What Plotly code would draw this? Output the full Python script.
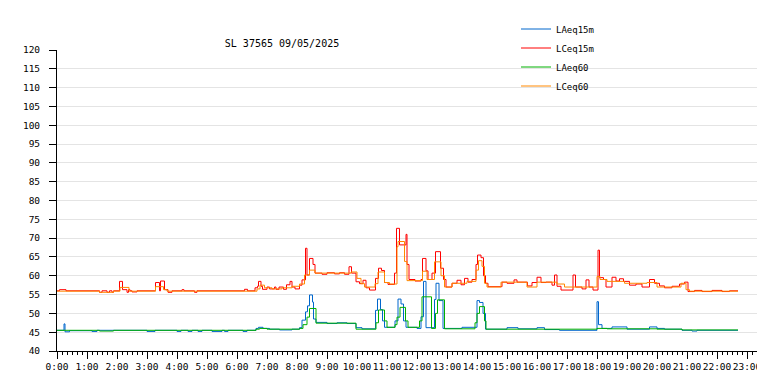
import plotly.graph_objects as go

# ---- data (minutes after midnight, dB) ----
laeq15m_t = [0, 14, 16, 25, 70, 80, 180, 196, 240, 248, 262, 270, 282, 290, 310, 330, 335, 342,
             372, 380, 398, 403, 412, 425, 445, 470, 485, 490, 497, 501, 505, 511, 513, 518, 540,
             560, 580, 598, 610, 637, 641, 647, 651, 655, 676, 682, 688, 693, 698, 720, 728, 733,
             738, 755, 758, 764, 772, 810, 840, 845, 852, 857, 900, 922, 960, 975, 1005, 1080,
             1083, 1090, 1110, 1140, 1185, 1200, 1215, 1250, 1270, 1280, 1362]
laeq15m_v = [45.5, 47.2, 45.1, 45.4, 45.2, 45.5, 45.2, 45.5, 45.2, 45.5, 45.2, 45.5, 45.2, 45.5,
             45.2, 45.5, 45.2, 45.5, 45.2, 45.5, 46.0, 46.3, 46.0, 45.8, 45.6, 45.8, 46.2, 48.2,
             50.4, 52.0, 54.9, 53.0, 48.5, 47.6, 47.3, 47.5, 47.3, 46.2, 45.9, 50.8, 53.8, 51.0,
             48.0, 46.3, 48.0, 53.8, 52.5, 48.0, 46.3, 46.0, 49.1, 58.5, 46.2, 53.7, 58.0, 53.4,
             46.0, 46.3, 53.4, 52.9, 50.0, 45.8, 46.2, 45.9, 46.2, 45.7, 45.5, 53.1, 47.0, 46.0,
             46.4, 45.8, 46.4, 46.0, 45.8, 45.5, 45.3, 45.5, 45.5]

lceq15m_t = [0, 5, 18, 85, 90, 100, 105, 110, 113, 125, 131, 140, 143, 146, 150, 160, 197, 205,
             207, 215, 222, 230, 250, 254, 275, 280, 375, 381, 396, 401, 403, 408, 411, 420, 425,
             435, 438, 444, 453, 459, 466, 470, 476, 485, 490, 497, 500, 505, 512, 516, 530, 540,
             555, 565, 575, 584, 589, 598, 605, 612, 618, 625, 637, 643, 649, 655, 662, 675, 679,
             685, 698, 700, 704, 716, 728, 731, 738, 742, 750, 757, 767, 773, 778, 790, 800, 808,
             815, 822, 830, 838, 841, 848, 853, 857, 862, 890, 900, 914, 920, 941, 950, 960, 968,
             978, 990, 995, 1000, 1008, 1032, 1037, 1050, 1058, 1064, 1072, 1082, 1085, 1093,
             1098, 1110, 1118, 1125, 1133, 1145, 1158, 1170, 1185, 1195, 1205, 1215, 1230, 1245,
             1255, 1262, 1275, 1290, 1310, 1330, 1345, 1362]
lceq15m_v = [56.0, 56.3, 56.0, 55.6, 56.0, 55.6, 56.0, 55.6, 56.0, 58.5, 56.3, 55.6, 56.3, 56.0,
             55.7, 56.0, 58.2, 56.0, 58.6, 56.3, 55.6, 56.0, 56.3, 56.0, 55.6, 56.0, 56.4, 56.0,
             56.8, 57.2, 58.5, 57.2, 56.4, 57.0, 56.5, 57.0, 56.4, 57.0, 56.4, 57.6, 58.5, 57.0,
             56.5, 57.5, 58.9, 67.3, 60.2, 64.6, 63.0, 60.7, 60.4, 60.8, 60.5, 60.8, 60.4, 62.4,
             60.7, 58.4, 57.9, 58.8, 56.8, 56.2, 59.3, 62.0, 61.4, 58.2, 57.7, 60.7, 72.6, 68.2,
             71.0, 63.0, 59.0, 58.6, 59.0, 64.6, 61.3, 59.0, 60.7, 66.4, 62.0, 59.0, 57.0, 58.0,
             58.8, 57.6, 59.3, 58.3, 59.0, 63.0, 65.5, 64.8, 60.0, 58.0, 57.1, 58.3, 58.0, 58.9,
             58.3, 57.3, 58.2, 59.6, 58.2, 58.3, 57.5, 60.2, 57.2, 56.2, 60.2, 57.0, 56.5, 58.9,
             57.0, 56.2, 66.8, 59.5, 59.0, 57.0, 59.6, 58.6, 59.2, 58.5, 57.5, 57.8, 57.0, 59.0,
             58.0, 57.3, 56.8, 57.2, 57.8, 58.3, 55.8, 56.1, 55.8, 56.1, 55.8, 56.0, 56.0]

laeq60_t = [0, 85, 113, 398, 405, 420, 485, 492, 500, 505, 518, 598, 638, 643, 655, 660, 676, 680,
            686, 697, 702, 725, 730, 749, 757, 761, 775, 836, 840, 845, 855, 858, 1080, 1100, 1200,
            1250, 1362]
laeq60_v = [45.5, 45.3, 45.5, 45.8, 46.0, 45.8, 46.0, 47.0, 49.0, 51.3, 47.4, 45.8, 47.5, 50.9,
            48.0, 46.3, 47.0, 49.0, 51.6, 48.0, 46.3, 48.0, 54.4, 46.0, 50.0, 53.6, 45.9, 47.5,
            50.0, 51.8, 48.0, 45.8, 46.0, 45.9, 45.8, 45.6, 45.6]

lceq60_t = [0, 85, 113, 126, 144, 197, 213, 220, 400, 406, 415, 430, 450, 470, 485, 495, 505, 516,
            588, 600, 608, 615, 636, 642, 655, 665, 680, 682, 695, 700, 731, 740, 755, 768, 775,
            790, 820, 838, 843, 850, 855, 860, 888, 940, 960, 1000, 1015, 1080, 1086, 1100, 1135,
            1180, 1200, 1248, 1258, 1265, 1362]
lceq60_v = [55.9, 55.6, 55.9, 56.9, 55.9, 57.1, 56.3, 55.9, 56.5, 57.5, 56.8, 56.5, 56.8, 57.2,
            57.8, 60.2, 61.5, 60.7, 61.0, 59.3, 57.9, 57.0, 57.9, 61.0, 58.2, 57.8, 67.7, 69.1,
            63.8, 58.7, 61.2, 59.0, 63.7, 60.0, 57.0, 58.0, 58.5, 61.5, 64.0, 62.5, 58.0, 57.0,
            58.3, 57.0, 58.3, 57.8, 57.0, 59.8, 59.0, 58.5, 58.0, 58.2, 57.0, 58.0, 56.3, 55.9,
            55.9]

hour_labels = ["%d:00" % h for h in range(24)]
y_ticks = list(range(40, 125, 5))

series = [
    ("LAeq15m", laeq15m_t, laeq15m_v, "#0066CC"),
    ("LCeq15m", lceq15m_t, lceq15m_v, "#FF0000"),
    ("LAeq60", laeq60_t, laeq60_v, "#00B000"),
    ("LCeq60", lceq60_t, lceq60_v, "#FF8800"),
]

FONT = "DejaVu Sans Mono"

fig = go.Figure()
for name, t, v, c in series:
    fig.add_trace(go.Scatter(
        x=[m / 60 for m in t], y=v, name=name, mode="lines",
        line=dict(color=c, width=1, shape="hv"),
    ))

fig.update_layout(
    width=757, height=391,
    margin=dict(l=57, r=0, t=50, b=40, autoexpand=False),
    paper_bgcolor="white", plot_bgcolor="white",
    font=dict(family=FONT, size=10, color="black"),
    title=dict(text="SL 37565 09/05/2025", x=282 / 757, xref="container", xanchor="center",
               y=1 - 43 / 391, yref="container", yanchor="middle",
               font=dict(family=FONT, size=10, color="black")),
    legend=dict(x=516 / 757, xref="container", xanchor="left",
                y=1 - 14.5 / 391, yref="container", yanchor="top",
                bgcolor="rgba(0,0,0,0)", font=dict(family=FONT, size=9),
                tracegroupgap=0),
    showlegend=True,
)
fig.update_xaxes(
    range=[0, 700 / 30], tickvals=list(range(24)), ticktext=hour_labels, tickangle=0,
    showgrid=False, showline=True, linecolor="black", linewidth=1,
    ticks="outside", ticklen=7, tickcolor="black", tickwidth=1,
    minor=dict(dtick=1 / 6, tick0=0, ticks="outside", ticklen=3, tickcolor="black", showgrid=False),
    tickfont=dict(family=FONT, size=9.5), zeroline=False, automargin=False,
    ticklabeloverflow="allow",
)
fig.update_yaxes(
    range=[40, 120], tickvals=y_ticks, showgrid=True, gridcolor="#E4E4E4", gridwidth=1,
    showline=True, linecolor="black", linewidth=1,
    ticks="outside", ticklen=7, tickcolor="black", tickwidth=1,
    tickfont=dict(family=FONT, size=9.5), zeroline=False, ticklabelstandoff=7,
    automargin=False,
)

fig.write_html("out.html", config={"displayModeBar": False},
               post_script="document.body.style.margin='0';document.body.style.overflow='hidden';")
